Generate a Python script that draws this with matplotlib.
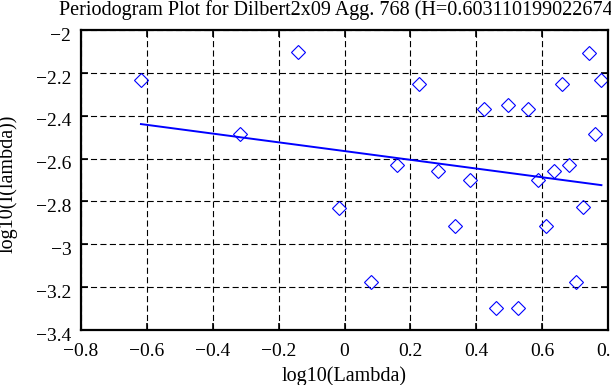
import matplotlib.pyplot as plt
from matplotlib.transforms import ScaledTranslation

# log10 of frequency and periodogram values
log_lambda = [-0.618, -0.316, -0.141, -0.016, 0.081, 0.160, 0.227, 0.285, 0.336,
              0.382, 0.425, 0.461, 0.496, 0.528, 0.558, 0.586, 0.612, 0.637,
              0.661, 0.683, 0.704, 0.724, 0.743, 0.761, 0.780]
log_i = [-2.234, -2.484, -2.104, -2.830, -3.177, -2.630, -2.250, -2.660, -2.915,
         -2.700, -2.370, -3.295, -2.350, -3.295, -2.370, -2.700, -2.915, -2.660,
         -2.250, -2.630, -3.178, -2.828, -2.105, -2.485, -2.234]

# least-squares fit line (end points)
fit_x = [-0.618, 0.780]
fit_y = [-2.439, -2.724]

title = 'Periodogram Plot for Dilbert2x09 Agg. 768 (H=0.6031101990226743)'

plt.rcParams['font.family'] = 'Liberation Serif'

fig = plt.figure(figsize=(6.11, 3.85), dpi=100)
ax = fig.add_axes([81 / 611, 1 - 330 / 385, 527 / 611, 300 / 385])

ax.plot(log_lambda, log_i, 'D', mfc='none', mec='blue', ms=7, mew=0.8, clip_on=False)
ax.plot(fit_x, fit_y, color='blue', lw=1.4)

ax.set_xlim(-0.8, 0.8)
ax.set_ylim(-3.4, -2)
ax.set_xticks([-0.8, -0.6, -0.4, -0.2, 0, 0.2, 0.4, 0.6, 0.8])
ax.set_xticklabels(['\u22120.8', '\u22120.6', '\u22120.4', '\u22120.2', '0', '0.2', '0.4', '0.6', '0.8'])
ax.set_yticks([-3.4, -3.2, -3, -2.8, -2.6, -2.4, -2.2, -2])
ax.set_yticklabels(['\u22123.4', '\u22123.2', '\u22123', '\u22122.8', '\u22122.6', '\u22122.4', '\u22122.2', '\u22122'])

ax.grid(True, color='black', linestyle=(0, (5.5, 3)), linewidth=0.8)
ax.tick_params(direction='in', length=5, width=1.2, top=True, right=True,
               labelsize=14)
ax.tick_params(axis='x', pad=9)
ax.tick_params(axis='y', pad=7)
# Matlab-style y tick labels sit slightly below their ticks
for lab in ax.get_yticklabels():
    lab.set_transform(lab.get_transform() + ScaledTranslation(0, -3 / 72, fig.dpi_scale_trans))
for s in ax.spines.values():
    s.set_linewidth(1.6)

ax.set_xlabel('log10(Lambda)', fontsize=14.5, labelpad=5)
ax.set_ylabel('log10(I(lambda))', fontsize=14.5)
ax.yaxis.set_label_coords(-63 / 527, 0.488)
ax.set_title(title, fontsize=14.5, pad=11)

fig.savefig('out.png', dpi=100)
